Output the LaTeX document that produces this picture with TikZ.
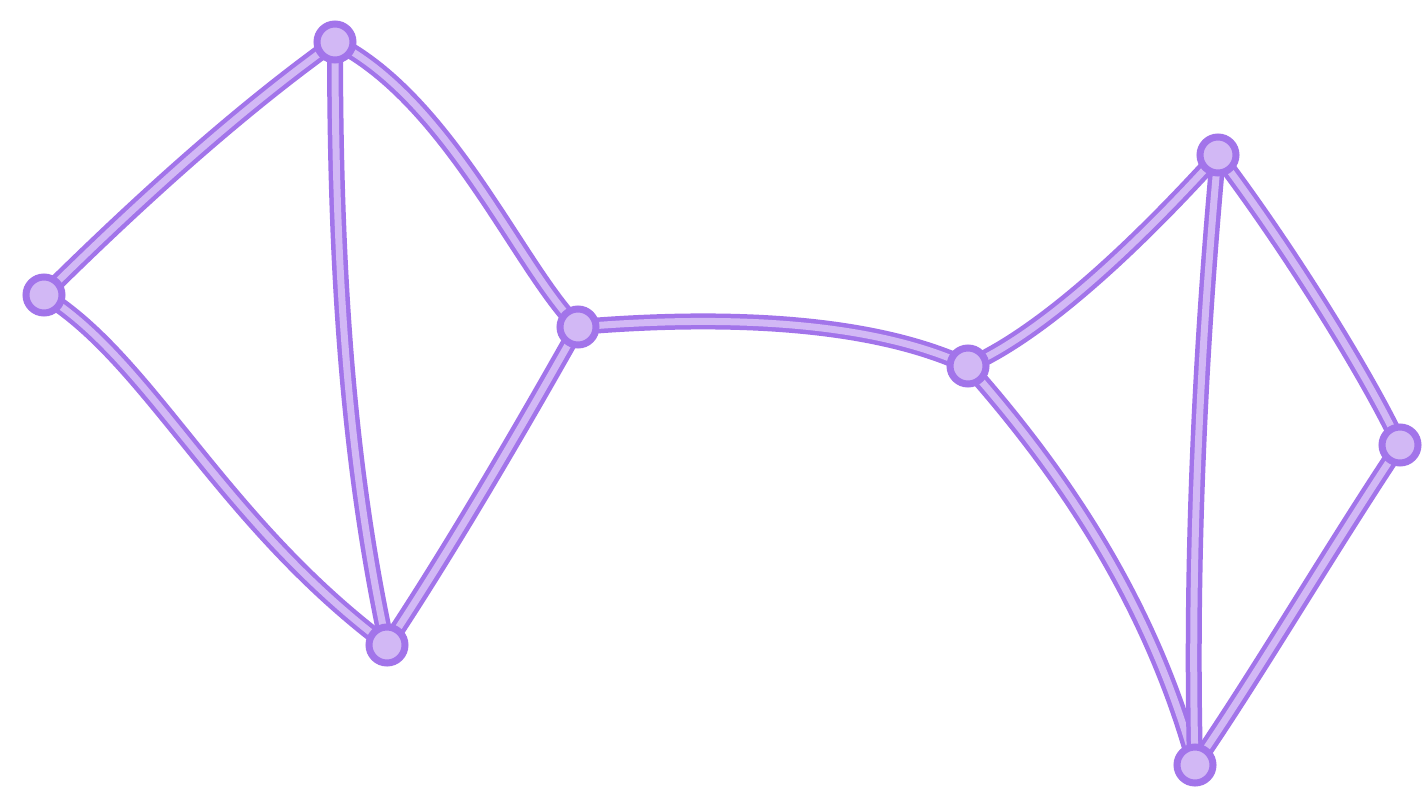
\documentclass[tikz,border=0pt]{standalone}
\definecolor{penout}{HTML}{A274EA}
\definecolor{penin}{HTML}{D2B8F5}
\tikzset{
  edge/.style={line width=16pt, draw=penout, line cap=round,
    postaction={draw=penin, line width=7pt, line cap=round}},
  vert/.style={circle, minimum size=36pt, inner sep=0pt, draw=penout, line width=7pt, fill=penin}
}
\begin{document}
\begin{tikzpicture}[x=1pt,y=-1pt]
\useasboundingbox[fill=white] (0,0) rectangle (1425,798);
\coordinate (A) at (335,42);
\coordinate (B) at (44,295);
\coordinate (C) at (387,645);
\coordinate (D) at (578,327);
\coordinate (E) at (968,366);
\coordinate (F) at (1218,155);
\coordinate (G) at (1400,445);
\coordinate (H) at (1195,765);
\draw[edge] (A) .. controls (240,110) and (140,200) .. (B);
\draw[edge] (B) .. controls (150,360) and (220,520) .. (C);
\draw[edge] (A) .. controls (335,250) and (345,450) .. (C);
\draw[edge] (A) .. controls (450,100) and (520,270) .. (D);
\draw[edge] (C) .. controls (450,550) and (520,430) .. (D);
\draw[edge] (D) .. controls (720,315) and (870,320) .. (E);
\draw[edge] (E) .. controls (1050,330) and (1150,230) .. (F);
\draw[edge] (E) .. controls (1060,470) and (1150,600) .. (H);
\draw[edge] (F) .. controls (1200,350) and (1190,560) .. (H);
\draw[edge] (F) .. controls (1290,250) and (1370,380) .. (G);
\draw[edge] (G) .. controls (1330,550) and (1260,670) .. (H);
\node[vert] (nA) at (A) {};
\node[vert] (nB) at (B) {};
\node[vert] (nC) at (C) {};
\node[vert] (nD) at (D) {};
\node[vert] (nE) at (E) {};
\node[vert] (nF) at (F) {};
\node[vert] (nG) at (G) {};
\node[vert] (nH) at (H) {};
\end{tikzpicture}
\end{document}
